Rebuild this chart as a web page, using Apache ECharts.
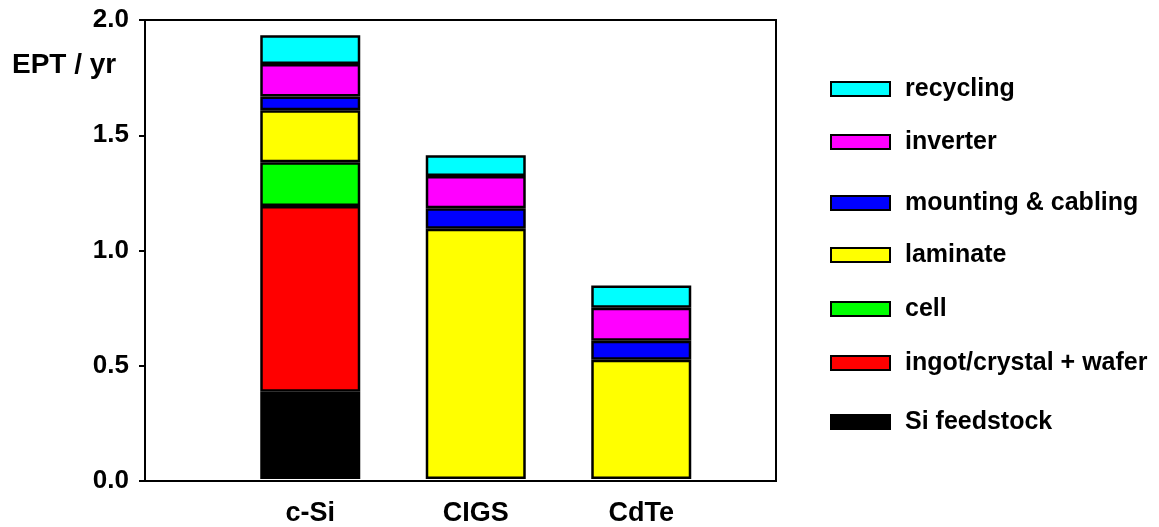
<!DOCTYPE html>
<html><head><meta charset="utf-8">
<script src="https://cdn.jsdelivr.net/npm/echarts@6/dist/echarts.min.js"></script>
<style>html,body{margin:0;padding:0;background:#fff}#c{width:1159px;height:527px}</style>
</head><body><div id="c"></div>
<script>
const categories = ['c-Si', 'CIGS', 'CdTe'];
const yTicks = ['0.0', '0.5', '1.0', '1.5', '2.0'];
const siFeedstock = [0.38, null, null];
const ingotWafer = [0.81, null, null];
const cell = [0.19, null, null];
const laminate = [0.227, 1.09, 0.52];
const mounting = [0.06, 0.09, 0.082];
const inverter = [0.141, 0.14, 0.144];
const recycling = [0.126, 0.091, 0.097];

const seriesDefs = [
  ['Si feedstock', siFeedstock, '#000000'],
  ['ingot/crystal + wafer', ingotWafer, '#ff0000'],
  ['cell', cell, '#00ff00'],
  ['laminate', laminate, '#ffff00'],
  ['mounting & cabling', mounting, '#0000ff'],
  ['inverter', inverter, '#ff00ff'],
  ['recycling', recycling, '#00ffff']
];
const legendCenters = [421, 362, 308, 254, 202, 141, 88];

const font = 'Liberation Sans, Arial, sans-serif';
const chart = echarts.init(document.getElementById('c'));
chart.setOption({
  animation: false,
  title: {text: 'EPT / yr', left: 12, top: 51, padding: 0, textStyle: {fontFamily: font, fontWeight: 'bold', fontSize: 28, color: '#000'}},
  legend: seriesDefs.map((s, i) => ({
    data: [s[0]], left: 830, top: legendCenters[i] - 13, padding: 0, itemWidth: 59, itemHeight: 14, itemGap: 0,
    icon: 'rect', selectedMode: false,
    textStyle: {fontFamily: font, fontWeight: 'bold', fontSize: 25, color: '#000', padding: [0, 0, 0, 10], lineHeight: 28},
    itemStyle: {borderColor: '#000', borderWidth: 2}
  })),
  grid: [
    {left: 145, top: 20, width: 631, height: 461, show: true, borderColor: '#000', borderWidth: 2, containLabel: false},
    {left: 227.5, top: 20, width: 496.5, height: 461, containLabel: false}
  ],
  xAxis: [
    {gridIndex: 0, type: 'value', min: 0, max: 1,
      axisLine: {show: true, lineStyle: {color: '#000', width: 2}},
      axisTick: {show: false}, splitLine: {show: false}, axisLabel: {show: false}},
    {gridIndex: 1, type: 'category', data: categories,
      axisLine: {show: false}, axisTick: {show: false}, splitLine: {show: false},
      axisLabel: {margin: 21, fontFamily: font, fontWeight: 'bold', fontSize: 27, color: '#000'}}
  ],
  yAxis: [
    {gridIndex: 0, type: 'value', min: 0, max: 2, interval: 0.5,
      axisLine: {show: true, lineStyle: {color: '#000', width: 2}},
      axisTick: {show: true, inside: false, length: 6, lineStyle: {color: '#000', width: 2}},
      splitLine: {show: false},
      axisLabel: {margin: 16, fontFamily: font, fontWeight: 'bold', fontSize: 26, color: '#000',
        formatter: v => yTicks[Math.round(v / 0.5)]}},
    {gridIndex: 1, type: 'value', min: 0, max: 2, interval: 0.5, show: false, splitLine: {show: false}}
  ],
  series: seriesDefs.map(s => ({
    name: s[0], type: 'bar', stack: 'ept', barWidth: 100, xAxisIndex: 1, yAxisIndex: 1,
    data: s[1],
    itemStyle: {color: s[2], borderColor: '#000', borderWidth: 2.5}
  }))
});
</script></body></html>
